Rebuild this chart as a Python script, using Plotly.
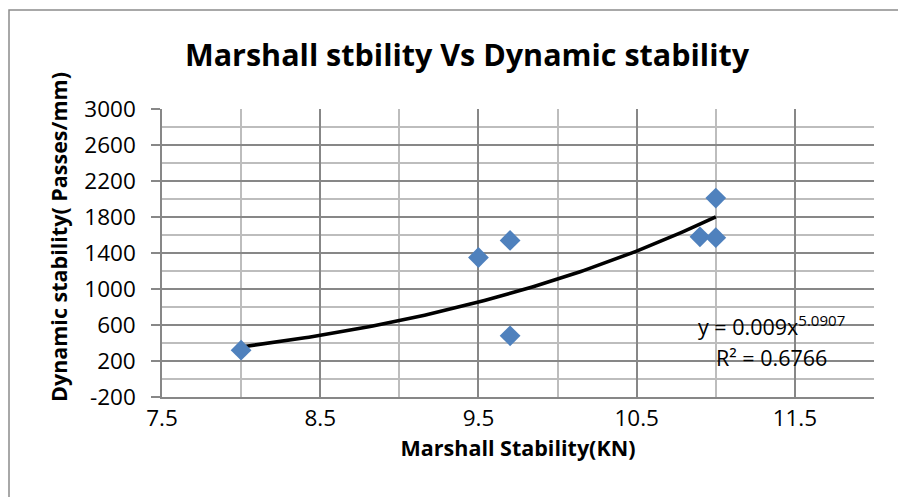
import numpy as np
import plotly.graph_objects as go

# Data
marshall_stability = [8.0, 9.5, 9.7, 9.7, 10.9, 11.0, 11.0]
dynamic_stability = [320, 1350, 1540, 480, 1580, 2010, 1570]

# Power trendline shown on the chart: y = a * x^b
trend_a = 0.009
trend_b = 5.0907
trend_r2 = 0.6766

x_tick_values = [7.5, 8.5, 9.5, 10.5, 11.5]
x_tick_labels = ["7.5", "8.5", "9.5", "10.5", "11.5"]
y_tick_values = [-200, 200, 600, 1000, 1400, 1800, 2200, 2600, 3000]
y_tick_labels = ["-200", "200", "600", "1000", "1400", "1800", "2200", "2600", "3000"]

x_range = [7.5, 12.0]
y_range = [-200, 3000]

FONT = "Open Sans"
MAJOR = "#878787"
MINOR = "#BDBDBD"

xt = np.linspace(min(marshall_stability), max(marshall_stability), 120)
yt = trend_a * xt ** trend_b

fig = go.Figure()
fig.add_trace(go.Scatter(
    x=xt, y=yt, mode="lines",
    line=dict(color="black", width=3.6),
    hoverinfo="skip", showlegend=False,
))
fig.add_trace(go.Scatter(
    x=marshall_stability, y=dynamic_stability, mode="markers",
    marker=dict(symbol="diamond", size=16, color="#4F81BD"),
    showlegend=False,
))

# page body has an 8px margin, so the figure is 8px smaller and shifted
fig.update_layout(
    width=898, height=489,
    margin=dict(l=154, r=32, t=101, b=100),
    paper_bgcolor="white", plot_bgcolor="white",
    font=dict(family=FONT, color="black"),
    title=dict(
        text="<b>Marshall stbility Vs Dynamic stability</b>",
        x=(467 - 8) / 898, xanchor="center", xref="container",
        y=1 - 47 / 489, yanchor="middle",
        font=dict(size=30.5, family=FONT, color="black"),
    ),
    xaxis=dict(
        range=x_range, tickmode="array", tickvals=x_tick_values, ticktext=x_tick_labels,
        showgrid=True, gridcolor=MAJOR, gridwidth=1.5,
        minor=dict(tickmode="linear", dtick=0.5, tick0=7.5, showgrid=True, gridcolor=MINOR, gridwidth=1.5),
        showline=True, linecolor=MAJOR, linewidth=1.5,
        ticks="", tickfont=dict(size=22.5, family=FONT),
        zeroline=False,
        title=dict(text="<b>Marshall Stability(KN)</b>", font=dict(size=21.5, family=FONT), standoff=9),
    ),
    yaxis=dict(
        range=y_range, tickmode="array", tickvals=y_tick_values, ticktext=y_tick_labels,
        showgrid=True, gridcolor=MAJOR, gridwidth=1.5,
        minor=dict(tickmode="linear", dtick=200, tick0=-200, showgrid=True, gridcolor=MINOR, gridwidth=1.5),
        showline=True, linecolor=MAJOR, linewidth=1.5,
        ticks="outside", ticklen=9, tickcolor=MAJOR, tickwidth=1.5,
        tickfont=dict(size=22.5, family=FONT), ticklabelstandoff=11,
        zeroline=False,
    ),
    annotations=[
        dict(x=(50 - 154) / 712, y=(389 - 229) / 288, xref="paper", yref="paper",
             showarrow=False, textangle=-90, xanchor="center", yanchor="middle",
             text="<b>Dynamic stability( Passes/mm)</b>",
             font=dict(size=21.5, family=FONT, color="black")),
        dict(x=11.35, y=590, xref="x", yref="y", showarrow=False,
             text=f"y = {trend_a}x<sup>{trend_b}</sup>",
             font=dict(size=21.5, family=FONT, color="black")),
        dict(x=11.35, y=235, xref="x", yref="y", showarrow=False,
             text=f"R² = {trend_r2}",
             font=dict(size=21.5, family=FONT, color="black")),
    ],
    shapes=[
        dict(type="rect", xref="paper", yref="paper",
             x0=(1 - 154) / 712, x1=1.3, y0=-0.6, y1=(389 - 2) / 288,
             line=dict(color="#8C8C8C", width=1.5), layer="below"),
    ],
)

fig.write_html("out.html")
